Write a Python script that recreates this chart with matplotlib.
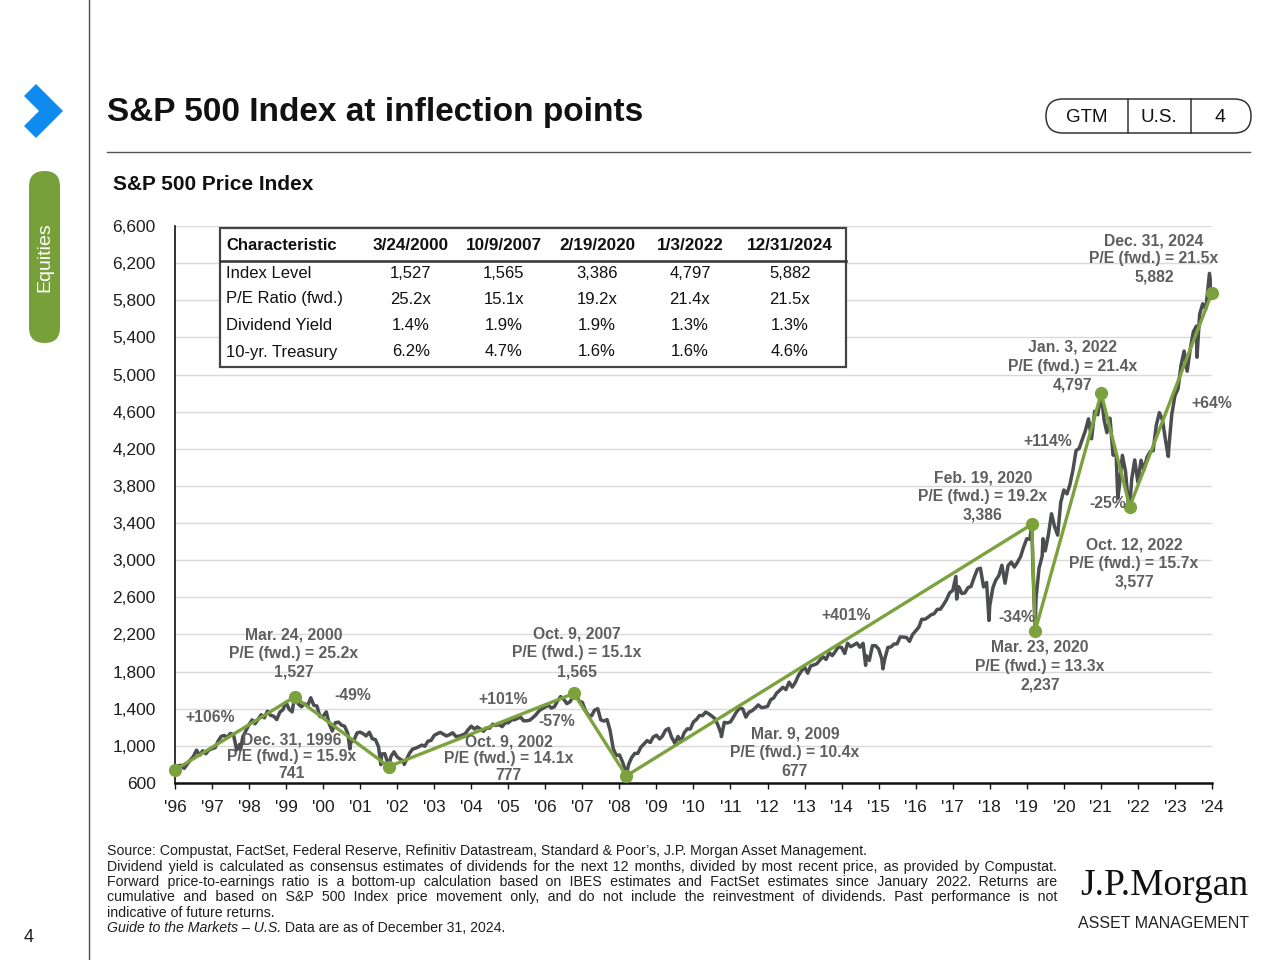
import matplotlib
matplotlib.use('Agg')
import matplotlib.pyplot as plt
import pandas as pd
from matplotlib.patches import FancyBboxPatch, Rectangle, Polygon

plt.rcParams['font.family'] = ['Liberation Sans', 'DejaVu Sans']

# ---------------- data ----------------
# S&P 500 month-end closes, Dec 1996 .. Dec 2024
sp_monthly = [
    741,
    786, 791, 757, 801, 848, 885, 954, 899, 947, 915, 955, 970,            # 1997
    980, 1049, 1102, 1112, 1091, 1134, 1121, 957, 1017, 1099, 1164, 1229,  # 1998
    1280, 1238, 1286, 1335, 1302, 1373, 1329, 1320, 1283, 1363, 1389, 1469,  # 1999
    1394, 1366, 1499, 1452, 1421, 1455, 1431, 1518, 1437, 1429, 1315, 1320,  # 2000
    1366, 1240, 1160, 1249, 1256, 1224, 1211, 1134, 1041, 1060, 1139, 1148,  # 2001
    1130, 1107, 1147, 1077, 1067, 990, 912, 916, 815, 886, 936, 880,        # 2002
    856, 841, 848, 917, 964, 975, 990, 1008, 996, 1051, 1058, 1112,         # 2003
    1131, 1145, 1126, 1107, 1121, 1141, 1102, 1104, 1115, 1130, 1174, 1212,  # 2004
    1181, 1204, 1181, 1157, 1192, 1191, 1234, 1220, 1229, 1207, 1249, 1248,  # 2005
    1280, 1281, 1295, 1311, 1270, 1270, 1277, 1304, 1336, 1378, 1401, 1418,  # 2006
    1438, 1407, 1421, 1482, 1531, 1503, 1455, 1474, 1527, 1549, 1481, 1468,  # 2007
    1379, 1331, 1323, 1386, 1400, 1280, 1267, 1283, 1166, 969, 896, 903,    # 2008
    826, 735, 798, 873, 919, 919, 987, 1021, 1057, 1036, 1096, 1115,        # 2009
    1074, 1104, 1169, 1187, 1089, 1031, 1102, 1049, 1141, 1183, 1181, 1258,  # 2010
    1286, 1327, 1326, 1364, 1345, 1321, 1292, 1219, 1131, 1253, 1247, 1258,  # 2011
    1312, 1366, 1408, 1398, 1310, 1362, 1379, 1407, 1441, 1412, 1416, 1426,  # 2012
    1498, 1515, 1569, 1598, 1631, 1606, 1686, 1633, 1682, 1757, 1806, 1848,  # 2013
    1783, 1859, 1872, 1884, 1924, 1960, 1931, 2003, 1972, 2018, 2068, 2059,  # 2014
    1995, 2105, 2068, 2086, 2107, 2063, 2104, 1972, 1920, 2079, 2080, 2044,  # 2015
    1940, 1932, 2060, 2065, 2097, 2099, 2174, 2171, 2168, 2126, 2199, 2239,  # 2016
    2279, 2364, 2363, 2384, 2412, 2423, 2470, 2472, 2519, 2575, 2648, 2674,  # 2017
    2824, 2714, 2641, 2648, 2705, 2718, 2816, 2902, 2914, 2712, 2760, 2507,  # 2018
    2704, 2784, 2834, 2946, 2752, 2942, 2980, 2926, 2977, 3038, 3141, 3231,  # 2019
    3226, 2954, 2585, 2912, 3044, 3100, 3271, 3500, 3363, 3270, 3622, 3756,  # 2020
    3714, 3811, 3973, 4181, 4204, 4298, 4395, 4523, 4308, 4605, 4567, 4766,  # 2021
    4516, 4374, 4530, 4132, 4132, 3785, 4130, 3955, 3586, 3872, 4080, 3840,  # 2022
    4077, 3970, 4109, 4169, 4180, 4450, 4589, 4508, 4288, 4194, 4568, 4770,  # 2023
    4846, 5096, 5254, 5036, 5278, 5460, 5522, 5648, 5762, 5705, 6032, 5882,  # 2024
]
# additional daily extremes
extra_dates = ['1998-10-08', '2001-09-21', '2002-07-23', '2003-03-11', '2010-07-02',
               '2011-10-03', '2015-08-25', '2016-02-11', '2018-02-08', '2018-12-24',
               '2020-06-08', '2022-06-16', '2023-10-27', '2024-08-05', '2024-12-06']
extra_levels = [959, 966, 797, 800, 1022, 1099, 1868, 1829, 2581, 2351,
                3232, 3667, 4117, 5186, 6090]

inflection_dates = ['1996-12-31', '2000-03-24', '2002-10-09', '2007-10-09', '2009-03-09',
                    '2020-02-19', '2020-03-23', '2022-01-03', '2022-10-12', '2024-12-31']
inflection_names = ['Dec. 31, 1996', 'Mar. 24, 2000', 'Oct. 9, 2002', 'Oct. 9, 2007',
                    'Mar. 9, 2009', 'Feb. 19, 2020', 'Mar. 23, 2020', 'Jan. 3, 2022',
                    'Oct. 12, 2022', 'Dec. 31, 2024']
inflection_levels = [741, 1527, 777, 1565, 677, 3386, 2237, 4797, 3577, 5882]
inflection_pe = [15.9, 25.2, 14.1, 15.1, 10.4, 19.2, 13.3, 21.4, 15.7, 21.5]
move_labels = ['+106%', '-49%', '+101%', '-57%', '+401%', '-34%', '+114%', '-25%', '+64%']

year_labels = ["'%02d" % (y % 100) for y in range(1996, 2025)]
y_ticks = list(range(600, 6601, 400))

table_header = ['Characteristic', '3/24/2000', '10/9/2007', '2/19/2020', '1/3/2022', '12/31/2024']
table_rows = ['Index Level', 'P/E Ratio (fwd.)', 'Dividend Yield', '10-yr. Treasury']
table_values = [
    ['1,527', '1,565', '3,386', '4,797', '5,882'],
    ['25.2x', '15.1x', '19.2x', '21.4x', '21.5x'],
    ['1.4%', '1.9%', '1.9%', '1.3%', '1.3%'],
    ['6.2%', '4.7%', '1.6%', '1.6%', '4.6%'],
]

# ---------------- figure ----------------
W, H = 1280, 960
fig = plt.figure(figsize=(12.8, 9.6), dpi=100)
fig.patch.set_facecolor('white')

GRAY_LINE = '#4B4D51'
GREEN = '#7BA23C'
ANN = '#5F5F5F'
TXT = '#1E1E1E'

ax = fig.add_axes([175 / W, 1 - 783 / H, (1212 - 175) / W, (783 - 226) / H])
dates = pd.date_range('1996-12-31', '2024-12-31', freq='ME')
s = pd.Series(sp_monthly, index=dates, dtype=float)
s_extra = pd.Series(extra_levels, index=pd.to_datetime(extra_dates), dtype=float)
s_inf = pd.Series(inflection_levels, index=pd.to_datetime(inflection_dates), dtype=float)
full = pd.concat([s, s_extra, s_inf])
full = full[~full.index.duplicated(keep='last')].sort_index()

ax.plot(full.index, full.values, color=GRAY_LINE, lw=2.5, zorder=3, solid_joinstyle='round')
ax.plot(s_inf.index, s_inf.values, color=GREEN, lw=2.4, marker='o', markersize=8.5,
        markeredgecolor=GREEN, zorder=4, clip_on=False)

ax.set_ylim(600, 6600)
ax.set_xlim(pd.Timestamp('1996-12-31'), pd.Timestamp('2024-12-31'))
ax.set_yticks(y_ticks)
ax.set_yticklabels(['{:,}'.format(v) for v in y_ticks], fontsize=12.5, color=TXT)
xt = pd.to_datetime(['%d-12-31' % y for y in range(1996, 2025)])
ax.set_xticks(xt)
ax.set_xticklabels(year_labels, fontsize=12.5, color=TXT)
ax.tick_params(axis='y', length=0, pad=14)
ax.tick_params(axis='x', length=4, width=1, direction='out', pad=8, color='#111')
ax.grid(axis='y', color='#D9D9D9', lw=1)
ax.set_axisbelow(True)
for side in ['top', 'right']:
    ax.spines[side].set_visible(False)
ax.spines['left'].set_color('#111')
ax.spines['left'].set_linewidth(1.2)
ax.spines['bottom'].set_color('#111')
ax.spines['bottom'].set_linewidth(1.8)

# ---------------- overlay in pixel coordinates ----------------
ov = fig.add_axes([0, 0, 1, 1])
ov.set_xlim(0, W)
ov.set_ylim(H, 0)
ov.axis('off')
ov.patch.set_alpha(0)

# left rail
ov.plot([89, 89], [0, H], color='#4A4A4A', lw=1.0)
ov.add_patch(Polygon([(24, 96), (36, 84), (63, 111), (36, 138), (24, 126), (39, 111)],
                     closed=True, facecolor='#0F8BEF', edgecolor='none'))
ov.add_patch(FancyBboxPatch((29, 171), 31, 172, boxstyle='round,pad=0,rounding_size=15.5',
                            facecolor='#77A03B', edgecolor='none'))
ov.text(44.5, 257, 'Equities', rotation=90, ha='center', va='center', fontsize=14, color='white')
ov.text(29, 938, '4', ha='center', va='center', fontsize=13, color=TXT)

# title
ov.text(107, 112, 'S&P 500 Index at inflection points', ha='left', va='center',
        fontsize=24, fontweight='bold', color='#111')
ov.plot([107, 1250], [152, 152], color='#555555', lw=1.0)
ov.text(113, 185, 'S&P 500 Price Index', ha='left', va='center', fontsize=15,
        fontweight='bold', color='#111')

# GTM badge
ov.add_patch(FancyBboxPatch((1046, 99), 205, 34, boxstyle='round,pad=0,rounding_size=17',
                            facecolor='white', edgecolor='#333333', lw=1.1))
ov.plot([1128, 1128], [99, 133], color='#333333', lw=1.1)
ov.plot([1191, 1191], [99, 133], color='#333333', lw=1.1)
ov.text(1087, 117, 'GTM', ha='center', va='center', fontsize=13.5, color='#111')
ov.text(1159, 117, 'U.S.', ha='center', va='center', fontsize=13.5, color='#111')
ov.text(1220, 118, '4', ha='center', va='center', fontsize=14, color='#111')

# table
ov.add_patch(Rectangle((220, 228), 626, 139, facecolor='white', edgecolor='#444444', lw=1.6, zorder=2))
ov.plot([220, 846], [261, 261], color='#333333', lw=1.8, zorder=3)
col_x = [411, 504, 597, 690, 790]
row_y = [273, 299, 325, 352]
ov.text(226, 245, table_header[0], ha='left', va='center', fontsize=12, fontweight='bold', color='#111', zorder=3)
for cx, h in zip(col_x, table_header[1:]):
    ov.text(cx, 245, h, ha='center', va='center', fontsize=12.3, fontweight='bold', color='#111', zorder=3)
for ry, name, vals in zip(row_y, table_rows, table_values):
    ov.text(226, ry, name, ha='left', va='center', fontsize=12, color='#111', zorder=3)
    for cx, v in zip(col_x, vals):
        ov.text(cx, ry, v, ha='center', va='center', fontsize=12, color='#111', zorder=3)

# inflection annotations: (x center, first line y, line step)
ann_pos = [(292, 740, 17), (294, 635, 18.5), (509, 742, 17), (577, 634, 19),
           (795, 734, 19), (983, 478, 18.5), (1040, 647, 19), (1073, 347, 19),
           (1134, 545, 18.5), (1154, 241, 18)]
for (x, y, st), name, pe, lvl in zip(ann_pos, inflection_names, inflection_pe, inflection_levels):
    lines = [name, 'P/E (fwd.) = %.1fx' % pe, '{:,}'.format(lvl)]
    for i, t in enumerate(lines):
        ov.text(x, y + i * st, t, ha='center', va='center', fontsize=11.3,
                fontweight='bold', color=ANN, zorder=6)

move_pos = [(210, 718), (353, 695), (503, 700), (557, 722), (846, 615),
            (1017, 617), (1048, 441), (1108, 503), (1212, 403)]
for (x, y), t in zip(move_pos, move_labels):
    ov.text(x, y, t, ha='center', va='center', fontsize=11.3, fontweight='bold', color=ANN, zorder=6)

# footnotes
fig.canvas.draw()
renderer = fig.canvas.get_renderer()
FN = 10.2
foot_lines = [
    ('Source: Compustat, FactSet, Federal Reserve, Refinitiv Datastream, Standard & Poor\u2019s, J.P. Morgan Asset Management.', False),
    ('Dividend yield is calculated as consensus estimates of dividends for the next 12 months, divided by most recent price, as provided by Compustat.', True),
    ('Forward price-to-earnings ratio is a bottom-up calculation based on IBES estimates and FactSet estimates since January 2022. Returns are', True),
    ('cumulative and based on S&P 500 Index price movement only, and do not include the reinvestment of dividends. Past performance is not', True),
    ('indicative of future returns.', False),
]
foot_base = [855, 870.5, 886, 901.5, 917]
x0, x1 = 107, 1057
HAIR = '\u200a'
probe = ov.text(0, -100, '', fontsize=FN)


def width_of(txt):
    probe.set_text(txt)
    return probe.get_window_extent(renderer).width


for (line, just), y in zip(foot_lines, foot_base):
    if not just:
        ov.text(x0, y, line, ha='left', va='baseline', fontsize=FN, color=TXT)
        continue
    words = line.split(' ')
    widths = [width_of(w) for w in words]
    gap = (x1 - x0 - sum(widths)) / (len(words) - 1)
    built = words[0]
    for i in range(1, len(words)):
        target = sum(widths[:i + 1]) + gap * i
        cand = built + ' ' + words[i]
        best, best_err = cand, abs(width_of(cand) - target)
        pad = ''
        for _ in range(40):
            pad += HAIR
            cand = built + ' ' + pad + words[i]
            err = abs(width_of(cand) - target)
            if err < best_err:
                best, best_err = cand, err
            else:
                break
        built = best
    ov.text(x0, y, built, ha='left', va='baseline', fontsize=FN, color=TXT)
probe.remove()

it = ov.text(x0, 932.5, 'Guide to the Markets \u2013 U.S.', ha='left', va='baseline',
             fontsize=FN, style='italic', color=TXT)
wi = it.get_window_extent(renderer).width
ov.text(x0 + wi, 932.5, ' Data are as of December 31, 2024.', ha='left', va='baseline',
        fontsize=FN, color=TXT)

# logo
ov.text(1164, 886, 'J.P.Morgan', ha='center', va='center', fontsize=27,
        family=['Liberation Serif', 'DejaVu Serif'], color='#111')
ov.text(1164, 924, 'ASSET MANAGEMENT', ha='center', va='center', fontsize=11.5, color='#222')

fig.savefig('out.png', dpi=100, facecolor='white')
